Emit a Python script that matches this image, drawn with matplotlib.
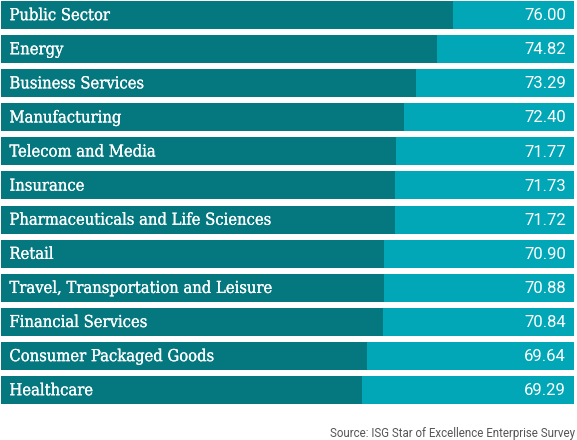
import matplotlib
matplotlib.use("Agg")
import matplotlib.pyplot as plt
import matplotlib.patheffects as pe

categories = ["Public Sector", "Energy", "Business Services", "Manufacturing",
              "Telecom and Media", "Insurance", "Pharmaceuticals and Life Sciences",
              "Retail", "Travel, Transportation and Leisure", "Financial Services",
              "Consumer Packaged Goods", "Healthcare"]
values = [76.00, 74.82, 73.29, 72.40, 71.77, 71.73, 71.72, 70.90, 70.88, 70.84, 69.64, 69.29]
source = "Source: ISG Star of Excellence Enterprise Survey"

dark = "#05787f"
light = "#01a7b6"
xmin, xmax = 42.67, 84.9
bar_h = 0.82

W, H = 577, 440
fig = plt.figure(figsize=(W / 100, H / 100), dpi=100)
fig.patch.set_facecolor("white")
ax = fig.add_axes([1 / W, (H - 404) / H, 573 / W, 403 / H])
ax.set_xlim(xmin, xmax)
ax.set_ylim(len(values) - 1 + bar_h / 2, -bar_h / 2)
ax.axis("off")

ys = list(range(len(values)))
ax.barh(ys, [xmax - xmin] * len(values), left=xmin, height=bar_h, color=light)
ax.barh(ys, [v - xmin for v in values], left=xmin, height=bar_h, color=dark)

stroke = [pe.withStroke(linewidth=0.15, foreground="white")]
for y, c, v in zip(ys, categories, values):
    ax.text(xmin + 0.62, y + 0.02, c, color="white", fontsize=11.85, family="DejaVu Serif",
            stretch="condensed", va="center", ha="left", path_effects=stroke)
    ax.text(xmax - 8 / 573 * (xmax - xmin), y + 0.02, f"{v:.2f}",
            color="white", fontsize=12, family="Roboto", va="center", ha="right")

fig.text(575 / W, 1 - 433 / H, source, color="#555555", fontsize=8.3, family="Roboto",
         ha="right", va="center")

fig.savefig("out.png", dpi=100)
